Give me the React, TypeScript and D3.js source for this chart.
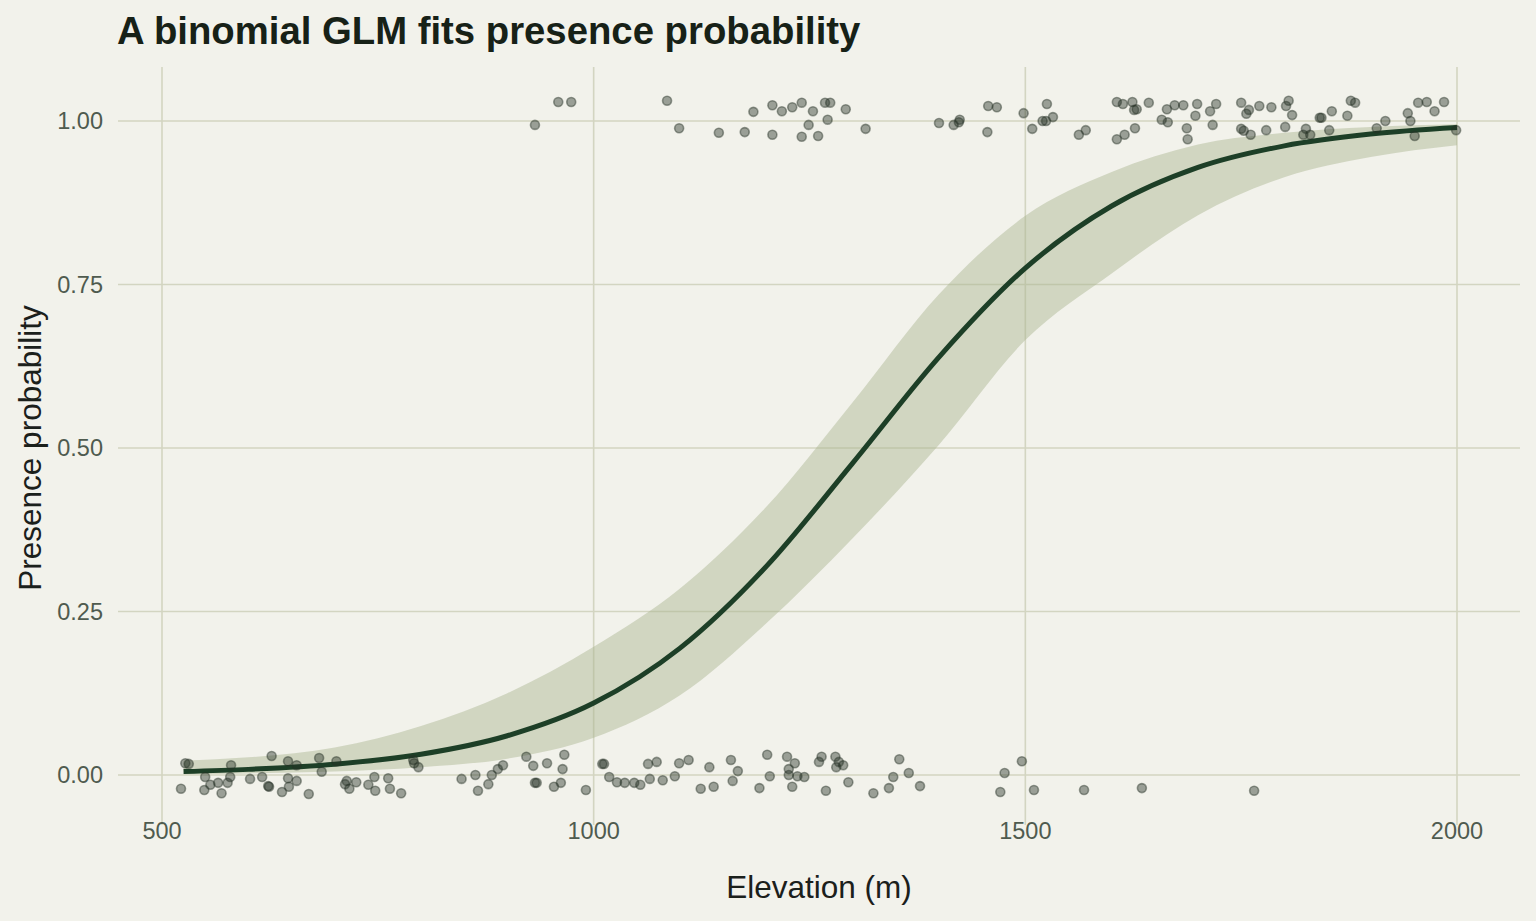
import * as d3 from "d3";
import React from "react";

// fitted curve + 95% band at these elevations
const fitElev = [525, 600, 700, 800, 900, 1000, 1100, 1200, 1300, 1400, 1500, 1600, 1700, 1800, 1900, 2000];
const fitProb = [0.0052, 0.0086, 0.0165, 0.0317, 0.06, 0.11, 0.194, 0.319, 0.477, 0.639, 0.775, 0.87, 0.929, 0.962, 0.98, 0.99];
const fitLower = [0.0012, 0.0024, 0.0053, 0.012, 0.025, 0.057, 0.122, 0.232, 0.362, 0.505, 0.665, 0.767, 0.856, 0.914, 0.945, 0.963];
const fitUpper = [0.022, 0.027, 0.042, 0.075, 0.125, 0.196, 0.285, 0.41, 0.57, 0.735, 0.855, 0.922, 0.964, 0.982, 0.991, 0.995];

// jittered observations (absent rows near 0, present rows near 1)
const absentElev = [527, 531, 522, 550, 549, 556, 565, 569, 576, 579, 580, 602, 616, 623, 624, 627, 639, 646, 646, 647, 656, 656, 670, 682, 685, 702, 714, 712, 717, 725, 739, 746, 747, 762, 764, 777, 791, 792, 797, 847, 863, 866, 878, 882, 889, 895, 922, 930, 932, 934, 946, 954, 962, 966, 964, 991, 1010, 1012, 1018, 1027, 1036, 1047, 1054, 1063, 1073, 1065, 1080, 1094, 1099, 1110, 1124, 1134, 1139, 1159, 1167, 1161, 1192, 1201, 1204, 1224, 1233, 1226, 1226, 1236, 1244, 1230, 1261, 1264, 1269, 1280, 1284, 1281, 1289, 1295, 1324, 1342, 1347, 1354, 1365, 1378, 1471, 1476, 1496, 1510, 1568, 1635, 1765];
const absentY = [0.018, 0.017, -0.021, -0.003, -0.023, -0.015, -0.012, -0.028, -0.012, -0.003, 0.015, -0.006, -0.003, -0.017, -0.018, 0.029, -0.026, 0.021, -0.005, -0.018, 0.015, -0.009, -0.029, 0.026, 0.005, 0.021, -0.009, -0.014, -0.021, -0.011, -0.015, -0.003, -0.024, -0.005, -0.021, -0.028, 0.023, 0.018, 0.012, -0.006, 0.0, -0.024, -0.014, 0.0, 0.009, 0.015, 0.028, 0.014, -0.012, -0.012, 0.018, -0.018, -0.012, 0.031, 0.009, -0.023, 0.017, 0.017, -0.003, -0.011, -0.012, -0.012, -0.015, 0.017, 0.02, -0.006, -0.008, -0.002, 0.018, 0.023, -0.021, 0.012, -0.018, 0.023, 0.006, -0.009, -0.02, 0.031, -0.002, 0.028, 0.018, 0.009, 0.0, -0.002, -0.003, -0.018, 0.02, 0.028, -0.024, 0.028, 0.02, 0.012, 0.015, -0.011, -0.028, -0.02, -0.003, 0.024, 0.003, -0.017, -0.026, 0.003, 0.021, -0.023, -0.023, -0.02, -0.024];
const presentElev = [932, 959, 974, 1085, 1099, 1145, 1175, 1185, 1207, 1207, 1218, 1230, 1241, 1241, 1254, 1249, 1260, 1268, 1274, 1271, 1292, 1315, 1400, 1417, 1424, 1423, 1456, 1457, 1467, 1498, 1508, 1520, 1524, 1525, 1532, 1562, 1570, 1606, 1613, 1624, 1626, 1629, 1643, 1606, 1615, 1627, 1658, 1664, 1665, 1673, 1683, 1699, 1697, 1687, 1688, 1714, 1721, 1717, 1750, 1759, 1756, 1771, 1785, 1750, 1753, 1761, 1779, 1801, 1805, 1802, 1809, 1825, 1822, 1830, 1841, 1843, 1855, 1852, 1873, 1877, 1882, 1907, 1917, 1943, 1946, 1951, 1955, 1965, 1974, 1985, 1999];
const presentY = [0.994, 1.029, 1.029, 1.031, 0.989, 0.982, 0.983, 1.014, 1.024, 0.979, 1.015, 1.021, 1.028, 0.976, 1.015, 0.994, 0.977, 1.028, 1.028, 1.002, 1.018, 0.988, 0.997, 0.994, 1.002, 0.998, 0.983, 1.023, 1.021, 1.012, 0.988, 1.0, 1.0, 1.026, 1.006, 0.979, 0.986, 1.029, 1.026, 1.029, 1.017, 1.018, 1.028, 0.972, 0.979, 0.989, 1.002, 1.018, 0.998, 1.024, 1.024, 1.026, 1.008, 0.989, 0.972, 1.015, 1.026, 0.994, 1.028, 1.017, 1.011, 1.023, 1.021, 0.988, 0.985, 0.979, 0.986, 0.991, 1.031, 1.023, 1.009, 0.988, 0.979, 0.979, 1.005, 1.005, 1.015, 0.986, 1.008, 1.031, 1.028, 0.989, 1.0, 1.012, 1.0, 0.977, 1.028, 1.029, 1.015, 1.029, 0.986];

const xTicks = [500, 1000, 1500, 2000];
const yTicks = [0, 0.25, 0.5, 0.75, 1];

const W = 1536, H = 921;
const m = { l: 118, r: 1520, t: 67, b: 825 };
const font = "'Liberation Sans', Arial, Helvetica, sans-serif";

const App: React.FC = () => {
  const x = d3.scaleLinear([500, 2000], [162, 1457]);
  const y = d3.scaleLinear([0, 1], [775, 121]);

  const curve = fitElev.map((e, i) => ({ e, p: fitProb[i], lo: fitLower[i], hi: fitUpper[i] }));
  const band = d3.area<typeof curve[0]>()
    .x(d => x(d.e)).y0(d => y(d.lo)).y1(d => y(d.hi))
    .curve(d3.curveMonotoneX);
  const line = d3.line<typeof curve[0]>()
    .x(d => x(d.e)).y(d => y(d.p))
    .curve(d3.curveMonotoneX);

  const pts = [
    ...absentElev.map((e, i) => ({ e, v: absentY[i] })),
    ...presentElev.map((e, i) => ({ e, v: presentY[i] })),
  ];

  return (
    <svg width={W} height={H} style={{ position: "absolute", left: 0, top: 0 }} fontFamily={font}>
      <rect width={W} height={H} fill="#f2f2eb" />

      {yTicks.map(t => (
        <line key={"gy" + t} x1={m.l} x2={m.r} y1={y(t)} y2={y(t)} stroke="#d3d5c1" strokeWidth={1.6} />
      ))}
      {xTicks.map(t => (
        <line key={"gx" + t} x1={x(t)} x2={x(t)} y1={m.t} y2={m.b} stroke="#d3d5c1" strokeWidth={1.6} />
      ))}

      <path d={band(curve) || ""} fill="#a9b48f" fillOpacity={0.45} />
      <path d={line(curve) || ""} fill="none" stroke="#1d3f27" strokeWidth={5} strokeLinecap="butt" />

      {pts.map((d, i) => (
        <circle key={i} cx={x(d.e)} cy={y(d.v)} r={4.5}
          fill="#263026" fillOpacity={0.43} stroke="#263026" strokeOpacity={0.45} strokeWidth={1.6} />
      ))}

      {yTicks.map(t => (
        <text key={"ly" + t} x={103} y={y(t)} dy="0.36em" textAnchor="end" fontSize={23.5} fill="#4f5b4f">
          {d3.format(".2f")(t)}
        </text>
      ))}
      {xTicks.map(t => (
        <text key={"lx" + t} x={x(t)} y={839} textAnchor="middle" fontSize={23.5} fill="#4f5b4f">
          {t}
        </text>
      ))}

      <text x={m.l + (m.r - m.l) / 2} y={898} textAnchor="middle" fontSize={31.5} fill="#1b201b">Elevation (m)</text>
      <text transform={`translate(41, ${(m.t + m.b) / 2 + 2}) rotate(-90)`} textAnchor="middle" fontSize={31.5} fill="#1b201b">
        Presence probability
      </text>

      <text x={117} y={44} fontSize={38.3} fontWeight="bold" fill="#172117">A binomial GLM fits presence probability</text>
    </svg>
  );
};

export default App;
